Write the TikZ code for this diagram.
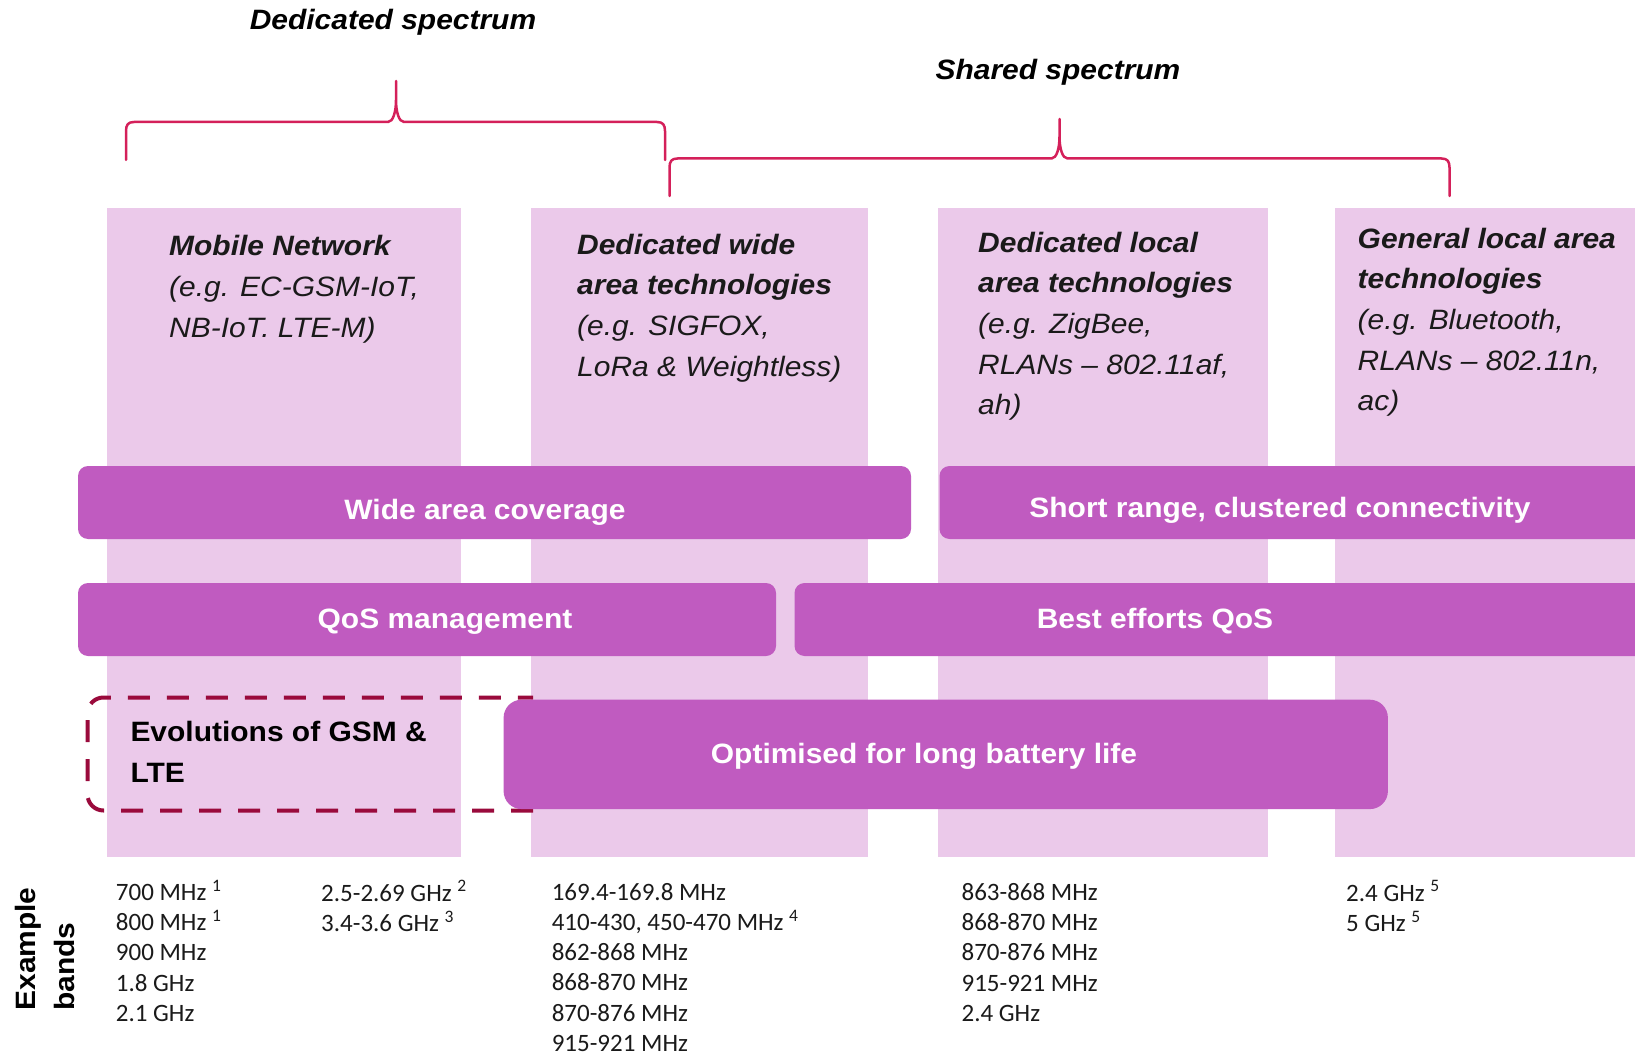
\documentclass[tikz,border=0pt]{standalone}
\usepackage{fontspec}
\setmainfont{Liberation Sans}[FakeStretch=1.07]
\newfontfamily\bandfont{Carlito}
\definecolor{colpink}{HTML}{EBC9EA}
\definecolor{barpurple}{HTML}{C05BC0}
\definecolor{bracered}{HTML}{D4205A}
\definecolor{dashred}{HTML}{9A0A3C}
\definecolor{textdark}{HTML}{1A1A1A}
\begin{document}
\begin{tikzpicture}[x=1pt,y=-1pt,
  colbox/.style={fill=colpink, draw=none, inner sep=0pt, outer sep=0pt, anchor=north west},
  barbox/.style={fill=barpurple, draw=none, rounded corners=10pt, inner sep=0pt, outer sep=0pt, anchor=north west},
  bartext/.style={text=white, font=\fontsize{28}{34}\selectfont\bfseries, anchor=base, inner sep=0pt},
  headtext/.style={text=textdark, font=\fontsize{28}{40.7}\selectfont\itshape, align=left, anchor=base west, inner sep=0pt},
  bandtext/.style={text=textdark, font=\bandfont\fontsize{25}{30.3}\selectfont, align=left, anchor=base west, inner sep=0pt},
  brace/.style={draw=bracered, line width=2.5pt, line join=round, line cap=round},
  dashbox/.style={draw=dashred, line width=4pt, dash pattern=on 22pt off 17pt},
  titletext/.style={text=black, font=\fontsize{28}{34}\selectfont\bfseries\itshape, anchor=base, inner sep=0pt}
]
\useasboundingbox (0,0) rectangle (1635,1056);
\clip (0,0) rectangle (1635,1056);

% columns
\node[colbox, minimum width=353.5pt, minimum height=648.6pt] (c1) at (107.4,208.5) {};
\node[colbox, minimum width=336.8pt, minimum height=648.6pt] (c2) at (530.7,208.5) {};
\node[colbox, minimum width=329.5pt, minimum height=648.6pt] (c3) at (938.4,208.5) {};
\node[colbox, minimum width=320pt, minimum height=648.6pt] (c4) at (1334.7,208.5) {};

% braces
\draw[brace] (126,160) -- (126,131) .. controls (126,125) and (128,122) .. (134,122)
  -- (388,122) .. controls (393,122) and (396,112) .. (396,100) -- (396,81)
  -- (396,100) .. controls (396,112) and (399,122) .. (404,122)
  -- (657,122) .. controls (663,122) and (665,125) .. (665,131) -- (665,160);
\draw[brace] (669.5,196) -- (669.5,167.5) .. controls (669.5,161.5) and (671.5,158.5) .. (677.5,158.5)
  -- (1051.5,158.5) .. controls (1056.5,158.5) and (1059.5,148.5) .. (1059.5,136.5) -- (1059.5,119)
  -- (1059.5,136.5) .. controls (1059.5,148.5) and (1062.5,158.5) .. (1067.5,158.5)
  -- (1441.5,158.5) .. controls (1447.5,158.5) and (1449.5,161.5) .. (1449.5,167.5) -- (1449.5,196);

\node[titletext] (ded) at (393,30) {Dedicated spectrum};
\node[titletext] (sha) at (1058,80) {Shared spectrum};

% column headers (anchor = baseline of last line)
\node[headtext] (h1) at (169,337.4) {\textbf{Mobile Network}\\(e.g. EC-GSM-IoT,\\NB-IoT. LTE-M)};
\node[headtext] (h2) at (577,376.1) {\textbf{Dedicated wide}\\\textbf{area technologies}\\(e.g. SIGFOX,\\LoRa \& Weightless)};
\node[headtext] (h3) at (978,414.8) {\textbf{Dedicated local}\\\textbf{area technologies}\\(e.g. ZigBee,\\RLANs -- 802.11af,\\ah)};
\node[headtext] (h4) at (1357.5,410.8) {\textbf{General local area}\\\textbf{technologies}\\(e.g. Bluetooth,\\RLANs -- 802.11n,\\ac)};

% bars
\node[barbox, minimum width=833pt, minimum height=73pt] (wide) at (78,466) {};
\node[barbox, minimum width=720pt, minimum height=73pt] (short) at (939.5,466) {};
\node[barbox, minimum width=698pt, minimum height=73pt] (qos) at (78,583) {};
\node[barbox, minimum width=900pt, minimum height=73pt] (best) at (794.5,583) {};

\node[bartext] (twide) at (485,519) {Wide area coverage};
\node[bartext] (tshort) at (1280,517) {Short range, clustered connectivity};
\node[bartext] (tqos) at (445,628) {QoS management};
\node[bartext] (tbest) at (1155,628) {Best efforts QoS};

% dashed box
\draw[dashbox] (533,810.5) -- (120,810.5) [rounded corners=16pt] -- (87.5,810.5) -- (87.5,697.5) -- (120,697.5) [sharp corners] -- (533,697.5);
\node[text=black, font=\fontsize{28}{40.6}\selectfont\bfseries, align=left, anchor=base west, inner sep=0pt] (evo) at (130.3,782.1) {Evolutions of GSM \&\\LTE};

\node[barbox, rounded corners=18pt, minimum width=884.3pt, minimum height=109.4pt] (opt) at (503.6,699.7) {};
\node[bartext] (topt) at (924,763.5) {Optimised for long battery life};

% example bands
\node[rotate=90, align=left, text=black, font=\fontsize{28}{38.6}\selectfont\bfseries, inner sep=0pt] (eb) at (45,949) {Example\\bands};

\node[bandtext] (b1) at (115.7,1021.4) {700 MHz \textsuperscript{1}\\800 MHz \textsuperscript{1}\\900 MHz\\1.8 GHz\\2.1 GHz};
\node[bandtext] (b2) at (321,931.3) {2.5-2.69 GHz \textsuperscript{2}\\3.4-3.6 GHz \textsuperscript{3}};
\node[bandtext] (b3) at (551.6,1051.5) {169.4-169.8 MHz\\410-430, 450-470 MHz \textsuperscript{4}\\862-868 MHz\\868-870 MHz\\870-876 MHz\\915-921 MHz};
\node[bandtext] (b4) at (961.4,1021.4) {863-868 MHz\\868-870 MHz\\870-876 MHz\\915-921 MHz\\2.4 GHz};
\node[bandtext] (b5) at (1346,931.3) {2.4 GHz \textsuperscript{5}\\5 GHz \textsuperscript{5}};
\end{tikzpicture}
\end{document}
